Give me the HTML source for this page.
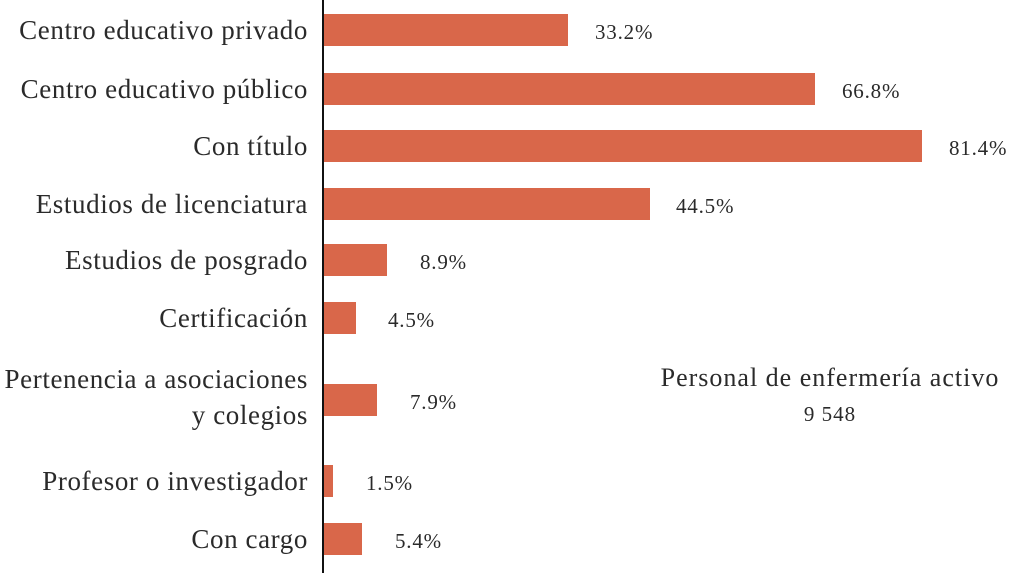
<!DOCTYPE html>
<html><head><meta charset="utf-8"><style>
body{margin:0;background:#fff;}
#c{position:relative;width:1024px;height:578px;overflow:hidden;font-family:"Liberation Serif",serif;color:#2a2a2a;}
.ax{position:absolute;left:322px;top:0;width:2px;height:573px;background:#111;}
.b{position:absolute;left:324px;height:32px;background:#d9674a;}
.l{position:absolute;right:716px;font-size:27px;letter-spacing:0.6px;text-align:right;line-height:30px;white-space:nowrap;}
.v{position:absolute;font-size:21px;letter-spacing:0.8px;line-height:24px;}
.t{position:absolute;left:630px;width:400px;text-align:center;font-size:26px;letter-spacing:1px;line-height:30px;}
</style></head><body><div id="c">
<div class="ax"></div>
<div class="b" style="top:14px;width:244px"></div>
<div class="b" style="top:73px;width:491px"></div>
<div class="b" style="top:130px;width:598px"></div>
<div class="b" style="top:188px;width:326px"></div>
<div class="b" style="top:244px;width:63px"></div>
<div class="b" style="top:302px;width:32px"></div>
<div class="b" style="top:384px;width:53px"></div>
<div class="b" style="top:465px;width:9px"></div>
<div class="b" style="top:523px;width:38px"></div>

<div class="l" style="top:15px">Centro educativo privado</div>
<div class="l" style="top:74px">Centro educativo público</div>
<div class="l" style="top:131px">Con título</div>
<div class="l" style="top:189px">Estudios de licenciatura</div>
<div class="l" style="top:245px">Estudios de posgrado</div>
<div class="l" style="top:303px">Certificación</div>
<div class="l" style="top:361px;line-height:36px">Pertenencia a asociaciones<br>y colegios</div>
<div class="l" style="top:466px">Profesor o investigador</div>
<div class="l" style="top:524px">Con cargo</div>

<div class="v" style="left:595px;top:20px">33.2%</div>
<div class="v" style="left:842px;top:79px">66.8%</div>
<div class="v" style="left:949px;top:136px">81.4%</div>
<div class="v" style="left:676px;top:194px">44.5%</div>
<div class="v" style="left:420px;top:250px">8.9%</div>
<div class="v" style="left:388px;top:308px">4.5%</div>
<div class="v" style="left:410px;top:390px">7.9%</div>
<div class="v" style="left:366px;top:471px">1.5%</div>
<div class="v" style="left:395px;top:529px">5.4%</div>

<div class="t" style="top:363px">Personal de enfermería activo</div>
<div class="t" style="top:399px;font-size:21px">9 548</div>
</div></body></html>
